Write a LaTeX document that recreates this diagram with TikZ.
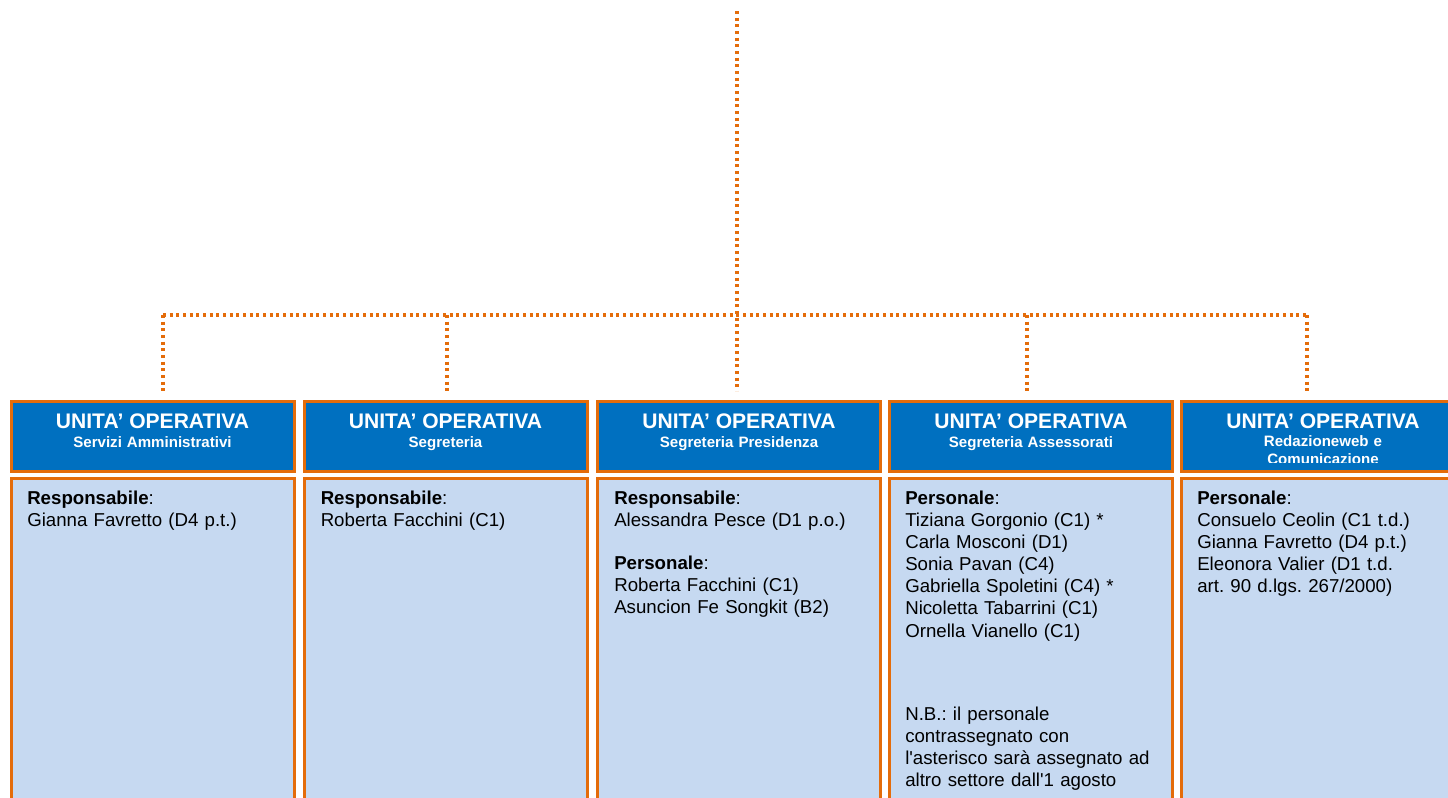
\documentclass[tikz,border=0pt]{standalone}
\usepackage{fontspec}
\setmainfont{Liberation Sans}
\frenchspacing
\definecolor{orng}{RGB}{228,108,10}
\definecolor{hblue}{RGB}{0,112,192}
\definecolor{lblue}{RGB}{198,217,241}
\begin{document}
\begin{tikzpicture}[x=0.75pt,y=0.75pt,yscale=-1,xscale=1,
    hdr/.style={draw=orng,fill=hblue,line width=2.25pt,minimum width=212.25pt,minimum height=52.5pt,inner sep=0pt},
    body/.style={draw=orng,fill=lblue,line width=2.25pt,minimum width=212.25pt,minimum height=277.5pt,inner sep=0pt},
    link/.style={draw=orng,line width=2.4pt,dash pattern={on 2.2pt off 2.8pt}},
    ttl/.style={anchor=base,inner sep=0pt,text=white,font=\fontsize{15.8}{18}\selectfont\bfseries},
    sub/.style={anchor=base,inner sep=0pt,text=white,align=center,text width=200pt,font=\fontsize{11.3}{13.5}\selectfont\bfseries},
    txt/.style={anchor=base west,inner sep=0pt,align=left,text width=210pt,font=\fontsize{14}{16.6}\selectfont}]
        \clip (0,0) rectangle (1448,798);
        
        %Straight Lines
        \coordinate (top) at (737,11);
        \coordinate (bus1) at (163,315);
        \coordinate (bus2) at (447,315);
        \coordinate (bus3) at (737,315);
        \coordinate (bus4) at (1027,315);
        \coordinate (bus5) at (1307,315);
        \coordinate (end1) at (163,391);
        \coordinate (end2) at (447,391);
        \coordinate (end3) at (737,391);
        \coordinate (end4) at (1027,391);
        \coordinate (end5) at (1307,391);
        \draw [link] (top) -- (end3) ;
        \draw [link] (bus1) -- (bus5) ;
        \draw [link] (bus1) -- (end1) ;
        \draw [link] (bus2) -- (end2) ;
        \draw [link] (bus4) -- (end4) ;
        \draw [link] (bus5) -- (end5) ;
        
        %Shape: Rectangle
        \node [hdr] (h1) at (152.5,436) {};
        \node [hdr] (h2) at (445.5,436) {};
        \node [hdr] (h3) at (739,436) {};
        \node [hdr] (h4) at (1031,436) {};
        \node [hdr] (h5) at (1323,436) {};
        %Shape: Rectangle
        \node [body] (b1) at (152.5,663.5) {};
        \node [body] (b2) at (445.5,663.5) {};
        \node [body] (b3) at (739,663.5) {};
        \node [body] (b4) at (1031,663.5) {};
        \node [body] (b5) at (1323,663.5) {};
        
        % Text Node
        \node [ttl] (t1) at (152.5,428.7) {UNITA’ OPERATIVA};
        \node [ttl] (t2) at (445.5,428.7) {UNITA’ OPERATIVA};
        \node [ttl] (t3) at (739,428.7) {UNITA’ OPERATIVA};
        \node [ttl] (t4) at (1031,428.7) {UNITA’ OPERATIVA};
        \node [ttl] (t5) at (1323,428.7) {UNITA’ OPERATIVA};
        % Text Node
        \node [sub] (s1) at (152.5,447.3) {Servizi Amministrativi};
        \node [sub] (s2) at (445.5,447.3) {Segreteria};
        \node [sub] (s3) at (739,447.3) {Segreteria Presidenza};
        \node [sub] (s4) at (1031,447.3) {Segreteria Assessorati};
        \begin{scope}
        \clip (1183,403) rectangle (1463,462.7);
        \node [sub] (s5) at (1323,446.7) {Redazioneweb e\\Comunicazione};
        \end{scope}
        
        % Text Node
        \node [txt] (p1) at (27,504.3) {\textbf{Responsabile}:\\Gianna Favretto (D4 p.t.)};
        \node [txt] (p2) at (320.5,504.3) {\textbf{Responsabile}:\\Roberta Facchini (C1)};
        \node [txt] (p3) at (614,504.3) {\textbf{Responsabile}:\\Alessandra Pesce (D1 p.o.)\\[15.5pt]\textbf{Personale}:\\Roberta Facchini (C1)\\Asuncion Fe Songkit (B2)};
        \node [txt] (p4) at (905,504.3) {\textbf{Personale}:\\Tiziana Gorgonio (C1) *\\Carla Mosconi (D1)\\Sonia Pavan (C4)\\Gabriella Spoletini (C4) *\\Nicoletta Tabarrini (C1)\\Ornella Vianello (C1)};
        \node [txt] (nb4) at (905,720.5) {N.B.: il personale\\contrassegnato con\\l\textquotesingle asterisco sarà assegnato ad\\altro settore dall\textquotesingle 1 agosto};
        \node [txt] (p5) at (1197,504.3) {\textbf{Personale}:\\Consuelo Ceolin (C1 t.d.)\\Gianna Favretto (D4 p.t.)\\Eleonora Valier (D1 t.d.\\art. 90 d.lgs. 267/2000)};
        
\end{tikzpicture}
\end{document}
